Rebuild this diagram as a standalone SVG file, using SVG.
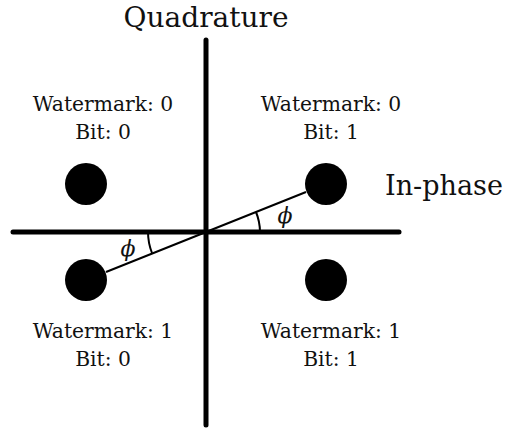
<svg xmlns="http://www.w3.org/2000/svg" width="506" height="430" viewBox="0 0 506 430">
<style>
.ax{stroke:#000;stroke-width:5;stroke-linecap:round;fill:none}
.thin{stroke:#000;stroke-width:2;fill:none}
.pt{fill:#000}
.lbl{font-family:"DejaVu Serif","Liberation Serif",serif;font-size:20.3px;fill:#111;text-anchor:middle}
.big{font-family:"DejaVu Serif","Liberation Serif",serif;font-size:28px;fill:#111}
.phi{font-family:"DejaVu Serif","Liberation Serif",serif;font-style:italic;font-size:22px;fill:#111;text-anchor:middle}
</style>
<rect width="506" height="430" fill="#fff"/>
<g id="connectors">
<line class="ax" x1="206" y1="40" x2="206" y2="425"/>
<line class="ax" x1="13" y1="232" x2="399" y2="232"/>
<line class="thin" x1="206" y1="232" x2="306" y2="192"/>
<line class="thin" x1="206" y1="232" x2="106" y2="272"/>
<path class="thin" d="M260 232 A54 54 0 0 0 256 212"/>
<path class="thin" d="M148 232 A58 58 0 0 0 152 253"/>
<text class="phi" x="285" y="223">ϕ</text>
<text class="phi" x="128" y="256">ϕ</text>
</g>
<g id="quadrature"><text class="big" x="206" y="27" text-anchor="middle">Quadrature</text></g>
<g id="inphase"><text class="big" x="385" y="195" textLength="118" lengthAdjust="spacingAndGlyphs">In-phase</text></g>
<g id="q00">
<circle class="pt" cx="86" cy="184" r="21"/>
<text class="lbl" x="103" y="111">Watermark: 0</text>
<text class="lbl" x="103" y="139">Bit: 0</text>
</g>
<g id="q01">
<circle class="pt" cx="326" cy="184" r="21"/>
<text class="lbl" x="331" y="111">Watermark: 0</text>
<text class="lbl" x="331" y="139">Bit: 1</text>
</g>
<g id="q10">
<circle class="pt" cx="86" cy="280" r="21"/>
<text class="lbl" x="103" y="338">Watermark: 1</text>
<text class="lbl" x="103" y="366">Bit: 0</text>
</g>
<g id="q11">
<circle class="pt" cx="326" cy="280" r="21"/>
<text class="lbl" x="331" y="338">Watermark: 1</text>
<text class="lbl" x="331" y="366">Bit: 1</text>
</g>
</svg>
